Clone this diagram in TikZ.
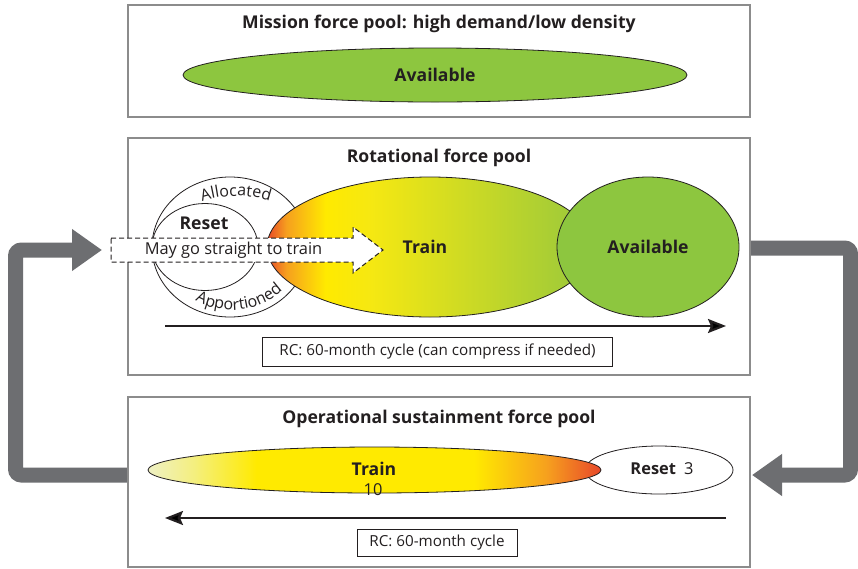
\documentclass[tikz,border=0pt]{standalone}
\usepackage{fontspec}
\setmainfont{Open Sans}
\usetikzlibrary{shapes.geometric,decorations.text,calc,arrows.meta}
\definecolor{boxgray}{RGB}{140,140,140}
\definecolor{bandgray}{RGB}{109,110,113}
\definecolor{avgreen}{RGB}{141,198,63}
\definecolor{ink}{RGB}{35,31,32}
\definecolor{gRed}{RGB}{232,72,42}
\definecolor{gOrange}{RGB}{246,160,30}
\definecolor{gYellow}{RGB}{255,234,0}
\definecolor{gYellowB}{RGB}{245,232,18}
\definecolor{gGreen}{RGB}{152,200,60}
\definecolor{gPale}{RGB}{238,240,196}
\definecolor{gPaleY}{RGB}{244,239,128}
\pgfdeclarehorizontalshading{rotgrad}{100bp}{color(0bp)=(gRed); color(25bp)=(gRed); color(28bp)=(gOrange); color(34bp)=(gYellow); color(41bp)=(gYellowB); color(75bp)=(gGreen); color(100bp)=(gGreen)}
\pgfdeclarehorizontalshading{opsgrad}{100bp}{color(0bp)=(gPale); color(25bp)=(gPale); color(30bp)=(gPaleY); color(37bp)=(gYellow); color(61bp)=(gYellow); color(69bp)=(gOrange); color(75bp)=(gRed); color(100bp)=(gRed)}
\newcommand\ttlfnt{\fontsize{17.6}{20}\selectfont\bfseries}
\newcommand\txtfnt{\fontsize{16.4}{19}\selectfont}
\newcommand\lblfnt{\fontsize{16}{19}\selectfont}
\newcommand\rcfnt{\fontsize{15.2}{18}\selectfont}
\begin{document}
\begin{tikzpicture}[x=1pt,y=-1pt,
  every node/.style={text=ink,inner sep=0pt},
  font=\txtfnt,
  poolbox/.style={draw=boxgray,line width=1.2pt,rectangle},
  blob/.style={ellipse,draw=ink,line width=0.8pt,inner sep=0pt},
  rcbox/.style={draw=ink,line width=0.9pt,rectangle,inner sep=0pt,font=\rcfnt},
  cyclearrow/.style={draw=ink,line width=2.2pt,-{Stealth[length=18pt,width=14pt,inset=3pt]}},
  returnarrow/.style={draw=bandgray,line width=15pt,rounded corners=6pt,-{Triangle[length=30pt,width=40pt]}},
  dasharrow/.style={draw=ink,dash pattern=on 5pt off 3pt,line width=1pt,fill=white},
  arclabel/.style={decorate,decoration={text along path,text align={center},text color=ink}}
]
\fill[white] (0,0) rectangle (858,568);
\useasboundingbox (0,0) rectangle (858,568);

% return arrows
\coordinate (rotE) at (750,248);
\coordinate (opsE) at (752,475);
\coordinate (opsW) at (128,475);
\coordinate (dWt) at (102,250);
\draw[returnarrow] (rotE) -- (850.5,248) -- (850.5,475) -- (opsE);
\draw[returnarrow] (opsW) -- (15.5,475) -- (15.5,250) -- (dWt);

% pool boxes
\node[poolbox,minimum width=622pt,minimum height=112pt] (mission) at (439,61) {};
\node[poolbox,minimum width=622pt,minimum height=237pt] (rot) at (439,256.5) {};
\node[poolbox,minimum width=622pt,minimum height=170pt] (ops) at (439,482) {};

% titles
\node[font=\ttlfnt] (missiont) at (439,24) {Mission force pool: high demand/low density};
\node[font=\ttlfnt] (rott) at (439,158) {Rotational force pool};
\node[font=\ttlfnt] (opst) at (439,419) {Operational sustainment force pool};

% mission pool
\node[blob,fill=avgreen,minimum width=504pt,minimum height=54pt,font=\ttlfnt] (mavail) at (435,75) {Available};

% rotational pool
\node[blob,fill=white,minimum width=156pt,minimum height=140pt] (alloc) at (230,247) {};
\node[blob,fill=white,minimum width=106pt,minimum height=87pt] (reset) at (205,247) {};
\node[blob,shading=rotgrad,minimum width=326pt,minimum height=140pt] (rtrain) at (430,247) {};
\node[blob,fill=avgreen,minimum width=182pt,minimum height=140pt,font=\ttlfnt] (ravail) at (648,247) {Available};
\node[font=\ttlfnt] (rtrainl) at (425,247) {Train};
\node[font=\ttlfnt] (resetl) at (204,223) {Reset};

\coordinate (acen) at (236,247);
\path[arclabel,decoration={text={|\lblfnt|Allocated}}]
  ($(acen)+(-145:76 and 51)$) arc[start angle=-145,end angle=-35,x radius=76,y radius=51];
\coordinate (pcen) at (232,247);
\path[arclabel,decoration={text={|\lblfnt|Apportioned}}]
  ($(pcen)+(140:70 and 63)$) arc[start angle=140,end angle=25,x radius=70,y radius=63];

\draw[dasharrow] (111,238) -- (353,238) -- (353,227) -- (383,250) -- (353,273) -- (353,262) -- (111,262) -- cycle;
\node (straight) at (233.5,250) {May go straight to train};

\coordinate (rc0) at (165,326);
\coordinate (rc1) at (726,326);
\draw[cyclearrow] (rc0) -- (rc1);
\node[rcbox,minimum width=350pt,minimum height=29pt] (rrc) at (437.5,351.5) {RC: 60-month cycle (can compress if needed)};

% operational pool
\node[blob,fill=white,minimum width=148pt,minimum height=48pt] (oreset) at (659,470) {};
\node[blob,shading=opsgrad,minimum width=453pt,minimum height=46pt] (otrain) at (374.5,470) {};
\node[font=\ttlfnt] (otrainl) at (374,469) {Train};
\node (otrainn) at (373,490) {10};
\node (oresetl) at (662,469) {\textbf{Reset}\enspace3};

\coordinate (oc0) at (726,518);
\coordinate (oc1) at (165,518);
\draw[cyclearrow] (oc0) -- (oc1);
\node[rcbox,minimum width=160pt,minimum height=27pt] (orc) at (437,543) {RC: 60-month cycle};
\end{tikzpicture}
\end{document}
